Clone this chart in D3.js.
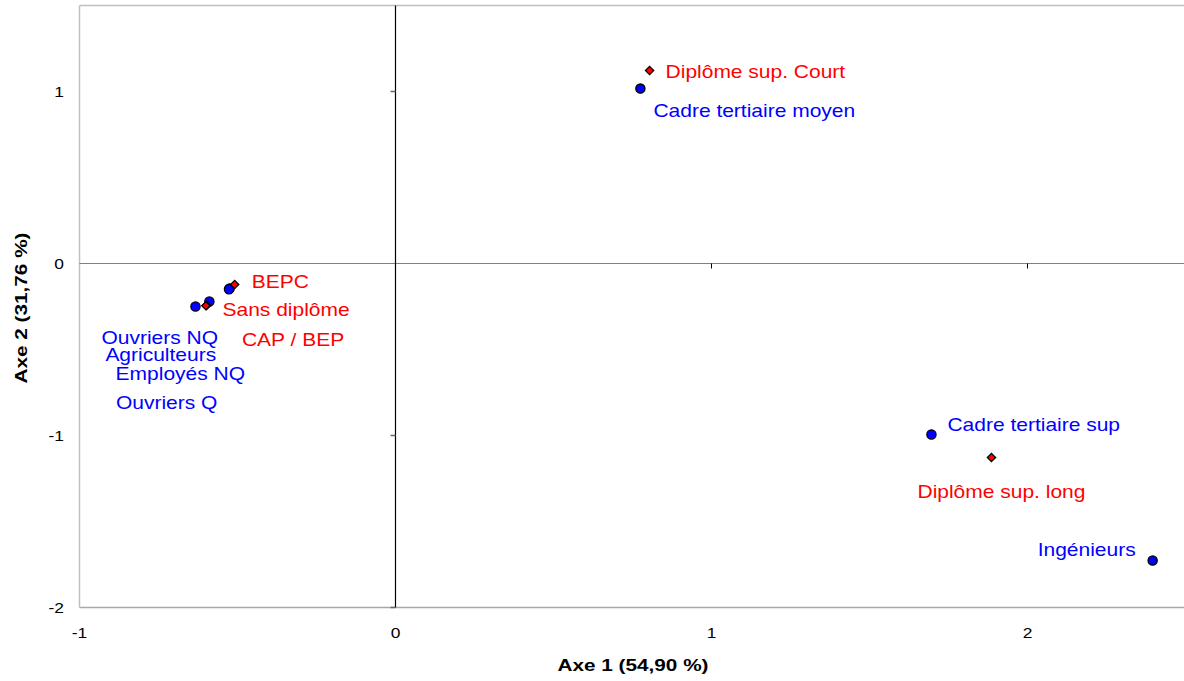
<!DOCTYPE html>
<html><head><meta charset="utf-8">
<script src="https://cdn.jsdelivr.net/npm/d3@7"></script>
<style>
body{margin:0;background:#fff;}
text{font-family:"Liberation Sans",Arial,sans-serif;}
</style></head>
<body><svg id="chart" width="1184" height="681"></svg>
<script>
// Professions (blue circles)
const profNames = ["Cadre tertiaire moyen","Cadre tertiaire sup","Ingénieurs","Ouvriers NQ","Agriculteurs","Employés NQ","Ouvriers Q"];
const profX = [0.775, 1.696, 2.396, -0.633, -0.589, -0.525, -0.527];
const profY = [1.017, -0.994, -1.727, -0.250, -0.221, -0.145, -0.150];
// Diplomas (red diamonds)
const dipNames = ["Diplôme sup. Court","Diplôme sup. long","BEPC","Sans diplôme","CAP / BEP"];
const dipX = [0.804, 1.886, -0.509, -0.598, -0.600];
const dipY = [1.122, -1.128, -0.122, -0.244, -0.246];
// Axis ticks and titles
const xTicks = [-1, 0, 1, 2];
const yTicks = [1, 0, -1, -2];
const xTitle = "Axe 1 (54,90 %)";
const yTitle = "Axe 2 (31,76 %)";

// label placement (pixel offsets from the marker, as in the reference layout)
const profLabelOff = [[13,28,"start"],[16,-3,"start"],[-17,-5,"end"],[-94,37,"start"],[-104,59,"start"],[-114,92,"start"],[-113,120,"start"]];
const dipLabelOff = [[16,7,"start"],[-74,40,"start"],[17,4,"start"],[16,11,"start"],[36,40,"start"]];

const SX = 1.2; // horizontal glyph stretch seen in the reference

const svg = d3.select("#chart");
const x = d3.scaleLinear().domain([-1, 2.5]).range([79.5, 1185.5]);
const y = d3.scaleLinear().domain([-2, 1.5]).range([607.5, 5.5]);

// frame
const frame = svg.append("g");
frame.append("line").attr("x1",x(-1)).attr("x2",1184).attr("y1",y(1.5)).attr("y2",y(1.5)).attr("stroke","#c0c0c0").attr("stroke-width",1.5);
frame.append("line").attr("x1",x(-1)).attr("x2",1184).attr("y1",y(-2)).attr("y2",y(-2)).attr("stroke","#a8a8a8").attr("stroke-width",1.5);
frame.append("line").attr("x1",x(-1)).attr("x2",x(-1)).attr("y1",y(1.5)).attr("y2",y(-2)).attr("stroke","#c0c0c0").attr("stroke-width",1.5);

// zero axes
svg.append("line").attr("x1",x(-1)).attr("x2",1184).attr("y1",y(0)).attr("y2",y(0)).attr("stroke","#808080").attr("stroke-width",1.2);
svg.append("line").attr("x1",x(0)).attr("x2",x(0)).attr("y1",y(1.5)).attr("y2",y(-2)).attr("stroke","#000").attr("stroke-width",1.2);

// ticks on the zero axes
svg.append("g").selectAll("line").data(xTicks.filter(d=>d>0)).join("line")
  .attr("x1",d=>x(d)).attr("x2",d=>x(d)).attr("y1",y(0)).attr("y2",y(0)+5).attr("stroke","#000");
svg.append("g").selectAll("line").data(yTicks.filter(d=>d!==0)).join("line")
  .attr("x1",x(0)-5).attr("x2",x(0)).attr("y1",d=>y(d)).attr("y2",d=>y(d)).attr("stroke","#666").attr("stroke-width",1.5);

function place(sel, fx, fy){
  return sel.attr("transform",(d,i)=>`translate(${fx(d,i)},${fy(d,i)}) scale(${SX},1)`);
}

// tick labels
place(svg.append("g").selectAll("text").data(xTicks).join("text"), d=>x(d), ()=>638)
  .attr("text-anchor","middle").attr("font-size",14.5).attr("fill","#000").text(d=>d);
place(svg.append("g").selectAll("text").data(yTicks).join("text"), ()=>64, d=>y(d)+5)
  .attr("text-anchor","end").attr("font-size",14.5).attr("fill","#000").text(d=>d);

// titles
svg.append("text").attr("transform","translate(633,671) scale(1.22,1)").attr("text-anchor","middle")
  .attr("font-size",17).attr("font-weight","bold").text(xTitle);
svg.append("text").attr("transform","translate(27,308) rotate(-90) scale(1.22,1)").attr("text-anchor","middle")
  .attr("font-size",17).attr("font-weight","bold").text(yTitle);

// data
const prof = profNames.map((n,i)=>({name:n,x:profX[i],y:profY[i],off:profLabelOff[i]}));
const dip = dipNames.map((n,i)=>({name:n,x:dipX[i],y:dipY[i],off:dipLabelOff[i]}));

svg.append("g").selectAll("circle").data(prof).join("circle")
  .attr("cx",d=>x(d.x)).attr("cy",d=>y(d.y)).attr("r",4.6)
  .attr("fill","#0000ff").attr("stroke","#000").attr("stroke-width",1.3);

svg.append("g").selectAll("path").data(dip).join("path")
  .attr("d",d3.symbol().type(d3.symbolSquare).size(34))
  .attr("transform",d=>`translate(${x(d.x)},${y(d.y)}) rotate(45)`)
  .attr("fill","#ff0000").attr("stroke","#000").attr("stroke-width",1.3);

place(svg.append("g").selectAll("text").data(prof).join("text"), d=>x(d.x)+d.off[0], d=>y(d.y)+d.off[1])
  .attr("text-anchor",d=>d.off[2]).attr("font-size",17.5).attr("fill","#0000ff").text(d=>d.name);
place(svg.append("g").selectAll("text").data(dip).join("text"), d=>x(d.x)+d.off[0], d=>y(d.y)+d.off[1])
  .attr("text-anchor",d=>d.off[2]).attr("font-size",17.5).attr("fill","#ff0000").text(d=>d.name);
</script>
</body></html>
